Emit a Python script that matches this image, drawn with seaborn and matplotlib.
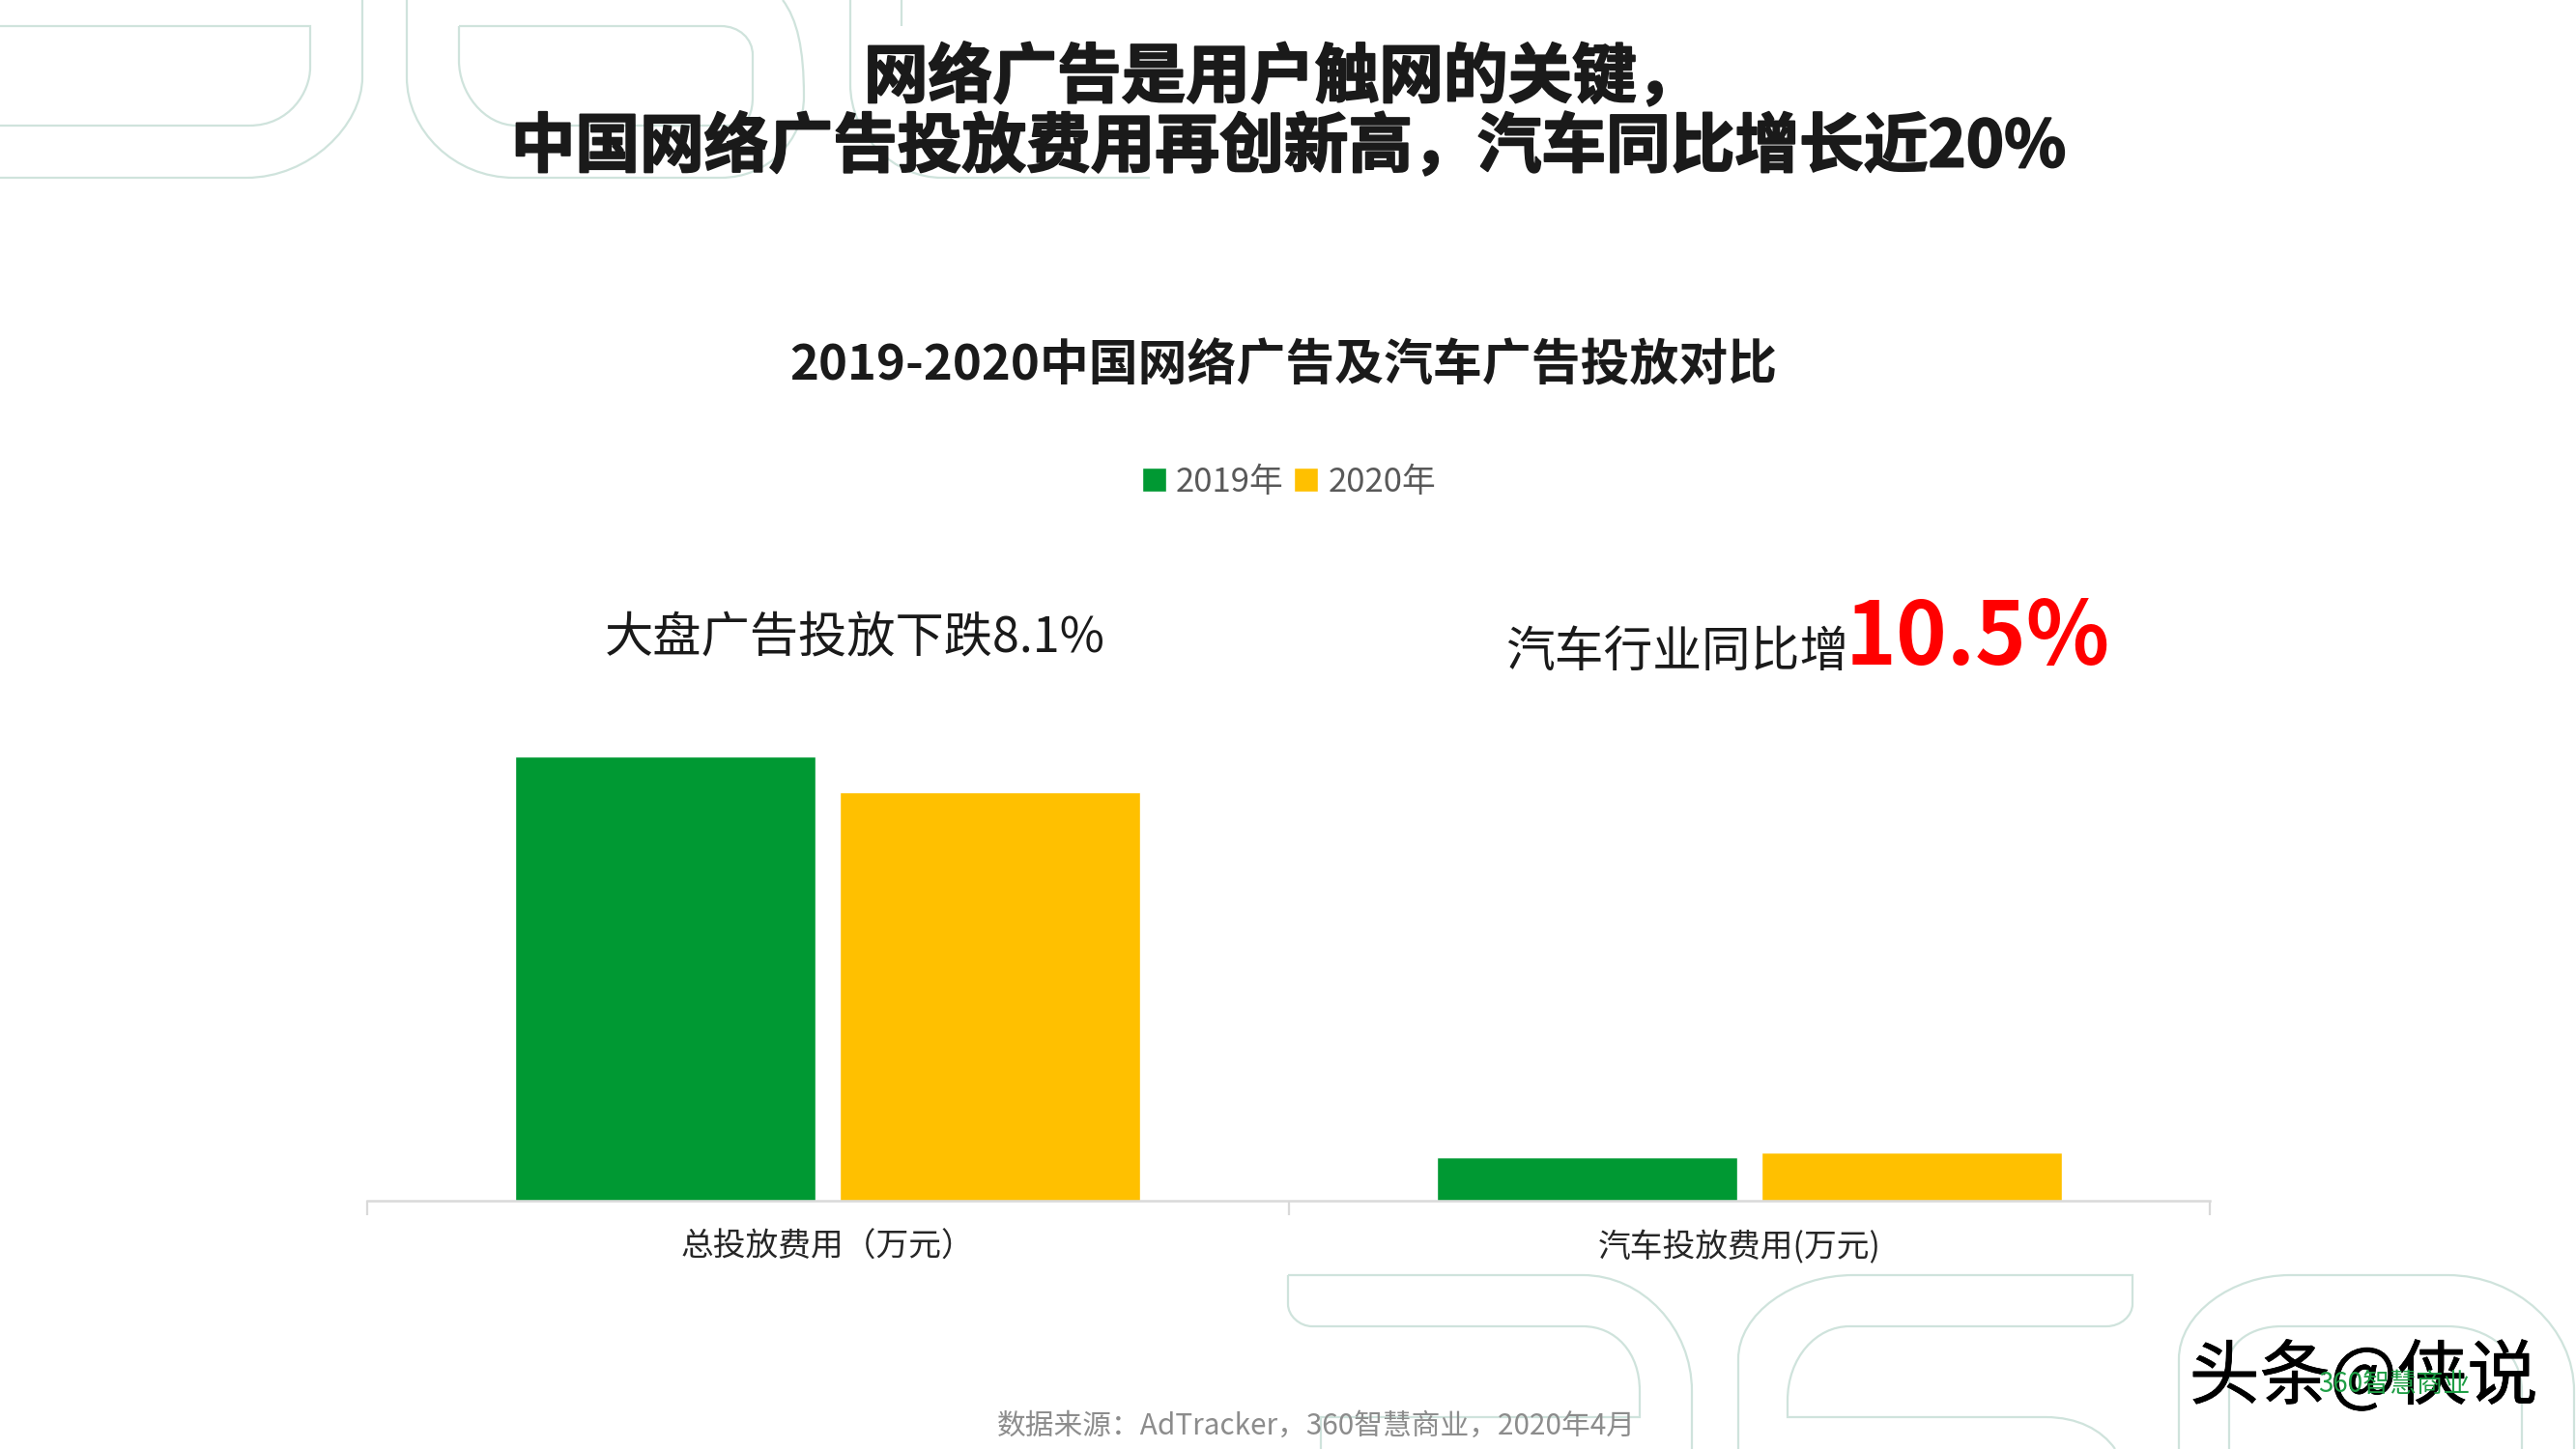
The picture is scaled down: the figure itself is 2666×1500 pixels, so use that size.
import matplotlib
matplotlib.use("Agg")
import matplotlib.pyplot as plt
import matplotlib.patheffects as pe
from matplotlib.path import Path
from matplotlib.patches import PathPatch
from matplotlib.transforms import Affine2D
import pandas as pd
import seaborn as sns

categories = ["总投放费用（万元）", "汽车投放费用(万元)"]
years = ["2019年", "2020年"]
values_2019 = [100.0, 9.8]
values_2020 = [91.9, 10.8]
palette = ["#009933", "#FFC000"]

W, H = 2666, 1500
sns.set_theme(style="white")
CJK = ["Noto Sans CJK SC", "DejaVu Sans"]
plt.rcParams["font.family"] = CJK

df = pd.DataFrame({
    "类别": categories * 2,
    "年份": [years[0]] * 2 + [years[1]] * 2,
    "费用": values_2019 + values_2020,
})

fig = plt.figure(figsize=(W / 100, H / 100), dpi=100, facecolor="white")

# decorative background outlines, in pixel space
bg = fig.add_axes([0, 0, 1, 1], zorder=0)
bg.set_xlim(0, W)
bg.set_ylim(H, 0)
bg.axis("off")


def outline(*segs):
    verts, codes = [], []
    for i, s in enumerate(segs):
        if i == 0:
            verts.append(s)
            codes.append(Path.MOVETO)
        elif len(s) == 2:
            verts.append(s)
            codes.append(Path.LINETO)
        else:
            verts += [(s[0], s[1]), (s[2], s[3]), (s[4], s[5])]
            codes += [Path.CURVE4] * 3
    bg.add_patch(PathPatch(Path(verts, codes), fill=False, ec="#CFE3DC", lw=1.6))


# top-left shapes
outline((0, 27), (321, 27), (321, 70), (321, 95, 300, 130, 258, 130), (0, 130))
outline((375, 0), (375, 80), (375, 130, 320, 184, 255, 184), (0, 184))
outline((475, 27), (746, 27), (765, 27, 779, 40, 779, 57), (779, 100), (779, 115, 775, 130, 759, 130),
        (535, 130), (500, 130, 475, 95, 475, 63), (475, 27))
outline((421, 0), (421, 80), (421, 135, 470, 184, 532, 184), (746, 184), (795, 184, 832, 145, 832, 100),
        (832, 50, 825, 20, 810, 0))
outline((880, 0), (880, 87), (880, 140, 925, 184, 975, 184), (1190, 184))
outline((933, 0), (933, 27))
# bottom shapes
outline((1333, 1320), (1638, 1320), (1700, 1320, 1751, 1375, 1751, 1440), (1751, 1500))
outline((1333, 1320), (1333, 1350), (1333, 1362, 1345, 1373, 1358, 1373), (1638, 1373),
        (1672, 1373, 1697, 1400, 1697, 1440), (1697, 1467), (1367, 1467), (1367, 1500))
outline((1799, 1500), (1799, 1407), (1799, 1360, 1855, 1320, 1918, 1320), (2207, 1320), (2207, 1350),
        (2207, 1362, 2195, 1373, 2180, 1373), (1914, 1373), (1880, 1373, 1850, 1405, 1850, 1450),
        (1850, 1467), (2117, 1467), (2150, 1467, 2175, 1480, 2189, 1500))
outline((2255, 1500), (2255, 1407), (2255, 1360, 2310, 1320, 2370, 1320), (2533, 1320),
        (2605, 1320, 2664, 1375, 2664, 1440), (2664, 1500))
outline((2307, 1500), (2307, 1410), (2307, 1390, 2330, 1373, 2361, 1373), (2533, 1373),
        (2575, 1373, 2610, 1400, 2610, 1440), (2610, 1500))

# bar chart
x0, x1, y_base = 380, 2287, 1243
y_top = 783
ax = fig.add_axes([x0 / W, 1 - y_base / H, (x1 - x0) / W, (y_base - y_top) / H], zorder=1)
ax.patch.set_alpha(0)
sns.barplot(data=df, x="类别", y="费用", hue="年份", hue_order=years, palette=palette,
            width=0.705, gap=0.074, saturation=1, ax=ax, legend=True)
ax.set_xlim(-0.5, 1.5)
ax.set_ylim(0, 100)
ax.set_xlabel("")
ax.set_ylabel("")
ax.set_yticks([])
for s in ["top", "left", "right"]:
    ax.spines[s].set_visible(False)
ax.spines["bottom"].set_color("#D9D9D9")
ax.spines["bottom"].set_linewidth(1.8)
ax.set_xticks([0, 1])
ax.set_xticklabels(categories, fontsize=24.3, color="#262626")
ax.tick_params(axis="x", which="major", length=0, pad=22)
ax.set_xticks([-0.5, 0.5, 1.5], minor=True)
ax.tick_params(axis="x", which="minor", length=11, width=1.6, color="#D9D9D9", bottom=True)
lab = ax.get_xticklabels()[1]
lab.set_transform(lab.get_transform() + Affine2D().translate(-10, 0))

handles, labels = ax.get_legend_handles_labels()
ax.get_legend().remove()
fig.legend(handles, labels, loc="center", bbox_to_anchor=(1334 / W, 1 - 499 / H), ncol=2, frameon=False,
           fontsize=25, labelcolor="#595959", handlelength=0.72, handleheight=0.72,
           handletextpad=0.3, columnspacing=0.3)


def txt(x, y, s, stroke=0, **kw):
    kw.setdefault("ha", "center")
    kw.setdefault("va", "center")
    kw.setdefault("family", CJK)
    t = fig.text(x / W, 1 - y / H, s, zorder=5, **kw)
    if stroke:
        t.set_path_effects([pe.withStroke(linewidth=stroke, foreground=kw.get("color", "black"))])
    return t


txt(1327, 81, "网络广告是用户触网的关键，", stroke=1.4, fontsize=48, fontweight="black", color="#1A1A1A")
txt(1333, 153, "中国网络广告投放费用再创新高，汽车同比增长近20%", stroke=1.4, fontsize=48, fontweight="black", color="#1A1A1A")
txt(1328, 379, "2019-2020中国网络广告及汽车广告投放对比", fontsize=36.6, fontweight="bold", color="#1A1A1A")
txt(885, 661, "大盘广告投放下跌8.1%", fontsize=36.2, fontweight="light", color="#1A1A1A")
txt(1736, 676, "汽车行业同比增", fontsize=36.5, fontweight="light", color="#1A1A1A")
txt(2047, 661, "10.5%", fontsize=64.5, fontweight="bold", color="#FF0000")
txt(1362, 1476, "数据来源：AdTracker，360智慧商业，2020年4月", fontsize=21.4, color="#8C8C8C")
txt(2446, 1427, "头条@侠说", stroke=0.5, fontsize=52.5, color="#000000")
txt(2478, 1433, "360智慧商业", fontsize=20, color="#1E9E45")

fig.savefig("out.png", dpi=100, facecolor="white")
